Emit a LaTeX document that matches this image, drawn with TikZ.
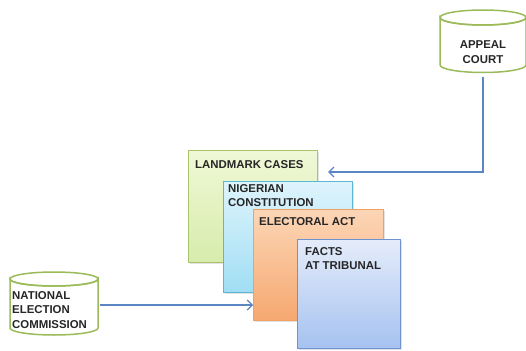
\documentclass[tikz,border=0pt]{standalone}
\usepackage{fontspec}
\setmainfont{Liberation Sans}
\usetikzlibrary{arrows.meta,shadows}

\definecolor{linkblue}{HTML}{5B86C4}
\definecolor{drumgreen}{HTML}{9BBB59}
\definecolor{greenedge}{HTML}{A9C46C}
\definecolor{cyanedge}{HTML}{5FB6D2}
\definecolor{orangeedge}{HTML}{F0A060}
\definecolor{blueedge}{HTML}{6F93CF}

\tikzset{
  card/.style={draw, line width=1.1pt, anchor=north west, inner sep=0pt,
    drop shadow={opacity=0.22, shadow xshift=1.2pt, shadow yshift=-1.2pt}},
  cardtext/.style={anchor=north west, align=left, inner sep=0pt,
    font=\fontsize{11.4}{14.5}\selectfont\bfseries, text=black!85},
  drumtext/.style={align=center, inner sep=0pt,
    font=\fontsize{11.4}{15.5}\selectfont\bfseries, text=black!85},
  drumline/.style={draw=drumgreen, line width=1.5pt, fill=white},
  link/.style={draw=linkblue, line width=1.2pt,
    -{Straight Barb[length=5pt,width=10pt,line width=1.2pt]}},
}

\begin{document}
\begin{tikzpicture}[x=1pt,y=-1pt]
\useasboundingbox (0,0) rectangle (526,350);

% stacked source cards, back to front
\node[card, draw=greenedge, top color={rgb,255:red,240;green,248;blue,214},
  bottom color={rgb,255:red,214;green,236;blue,172},
  minimum width=129pt, minimum height=112pt] (landmark) at (188,150) {};
\node[cardtext] (landmark-t) at (195,160) {LANDMARK CASES};

\node[card, draw=cyanedge, top color={rgb,255:red,222;green,244;blue,252},
  bottom color={rgb,255:red,160;green,222;blue,244},
  minimum width=129pt, minimum height=111pt] (constitution) at (223,181) {};
\node[cardtext] (constitution-t) at (228,184) {NIGERIAN\\CONSTITUTION};

\node[card, draw=orangeedge, top color={rgb,255:red,252;green,214;blue,182},
  bottom color={rgb,255:red,246;green,168;blue,112},
  minimum width=130pt, minimum height=111pt] (electoral) at (253,209) {};
\node[cardtext] (electoral-t) at (259,217) {ELECTORAL ACT};

\node[card, draw=blueedge, top color={rgb,255:red,228;green,236;blue,250},
  bottom color={rgb,255:red,166;green,194;blue,240},
  minimum width=103pt, minimum height=109pt] (facts) at (297,239) {};
\node[cardtext] (facts-t) at (305,247) {FACTS\\AT TRIBUNAL};

% appeal court drum: body, then the full top rim
\path[drumline] (440,17.5) -- (440,65)
  arc[start angle=180, end angle=360, x radius=43, y radius=-7.5]
  -- (526,17.5)
  arc[start angle=0, end angle=180, x radius=43, y radius=7.5] -- cycle;
\draw[drumgreen, line width=1.5pt] (483,17.5) ellipse [x radius=43, y radius=7.5];
\node[drumtext, minimum width=86pt, minimum height=50pt] (appeal) at (483,52)
  {APPEAL\\COURT};

% national election commission drum
\path[drumline] (10,279) -- (10,328)
  arc[start angle=180, end angle=360, x radius=44, y radius=-7]
  -- (98,279)
  arc[start angle=0, end angle=180, x radius=44, y radius=7] -- cycle;
\draw[drumgreen, line width=1.5pt] (54,279) ellipse [x radius=44, y radius=7];
\node[cardtext, anchor=north west] (nec) at (12,291)
  {NATIONAL\\ELECTION\\COMMISSION};
\coordinate (nec-out) at (100,305);

% connectors
\coordinate (appeal-foot) at (483,77);
\draw[link, shorten >=10pt] (appeal-foot) |- (landmark.east |- 0,172);
\draw[link] (nec-out) -- (electoral.west |- nec-out);
\end{tikzpicture}
\end{document}
